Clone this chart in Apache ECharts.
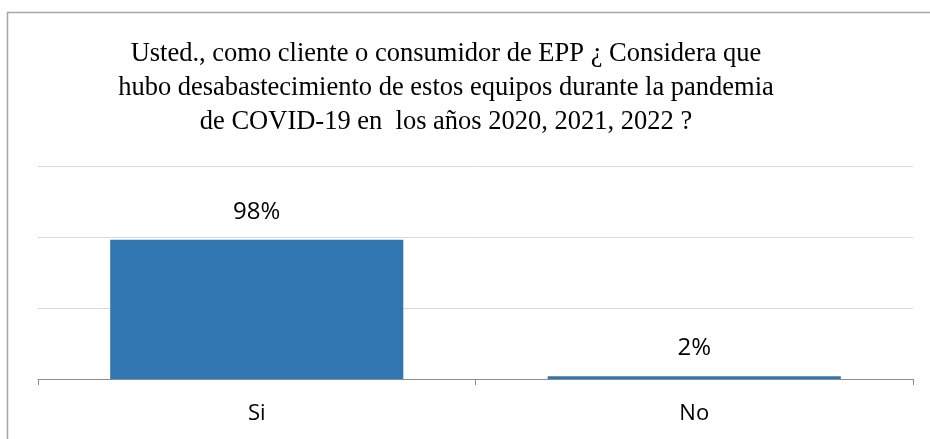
<!DOCTYPE html>
<html>
<head>
<meta charset="utf-8">
<script src="https://cdn.jsdelivr.net/npm/echarts@6/dist/echarts.min.js"></script>
<style>
  html, body { margin: 0; padding: 0; background: #fff; }
  #chart { width: 930px; height: 439px; }
</style>
</head>
<body>
<div id="chart"></div>
<script>
const titleText = 'Usted., como cliente o consumidor de EPP \u00bf Considera que\nhubo desabastecimiento de estos equipos durante la pandemia\nde COVID-19 en  los a\u00f1os 2020, 2021, 2022 ?';
const categories = ['Si', 'No'];
const values = [0.98, 0.02];
const valueLabels = ['98%', '2%'];

const myChart = echarts.init(document.getElementById('chart'));

const option = {
    backgroundColor: '#ffffff',
    animation: false,
    title: {
        text: titleText,
        left: 441,
        top: 32,
        textAlign: 'center',
        textStyle: {
            fontFamily: 'Liberation Serif',
            fontSize: 26.5,
            fontWeight: 'normal',
            color: '#000',
            lineHeight: 34
        }
    },
    graphic: [{
        type: 'rect',
        shape: {x: 7.5, y: 12.5, width: 940, height: 440},
        style: {fill: 'none', stroke: '#a6a6a6', lineWidth: 1.5},
        silent: true
    }],
    grid: {
        top: 166,
        left: 38,
        right: 17,
        bottom: 60
    },
    xAxis: {
        type: 'category',
        data: categories,
        boundaryGap: true,
        axisLine: {lineStyle: {color: '#8c8c8c', width: 1}},
        axisTick: {
            show: true,
            length: 6,
            alignWithLabel: false,
            lineStyle: {color: '#8c8c8c'}
        },
        axisLabel: {
            margin: 24,
            fontFamily: 'Open Sans',
            fontSize: 22,
            color: '#000'
        }
    },
    yAxis: {
        type: 'value',
        min: 0,
        max: 1.5,
        interval: 0.5,
        axisLine: {show: false},
        axisTick: {show: false},
        axisLabel: {show: false},
        splitLine: {
            show: true,
            lineStyle: {color: '#d9d9d9', width: 1}
        }
    },
    series: [{
        type: 'bar',
        data: values,
        barCategoryGap: '33%',
        itemStyle: {
            color: '#3276b1'
        },
        label: {
            show: true,
            position: 'top',
            distance: 16,
            fontFamily: 'Open Sans',
            fontSize: 24,
            color: '#000',
            formatter: function (p) {
                return valueLabels[p.dataIndex];
            }
        }
    }]
};

myChart.setOption(option);
window.onresize = myChart.resize;
</script>
</body>
</html>
